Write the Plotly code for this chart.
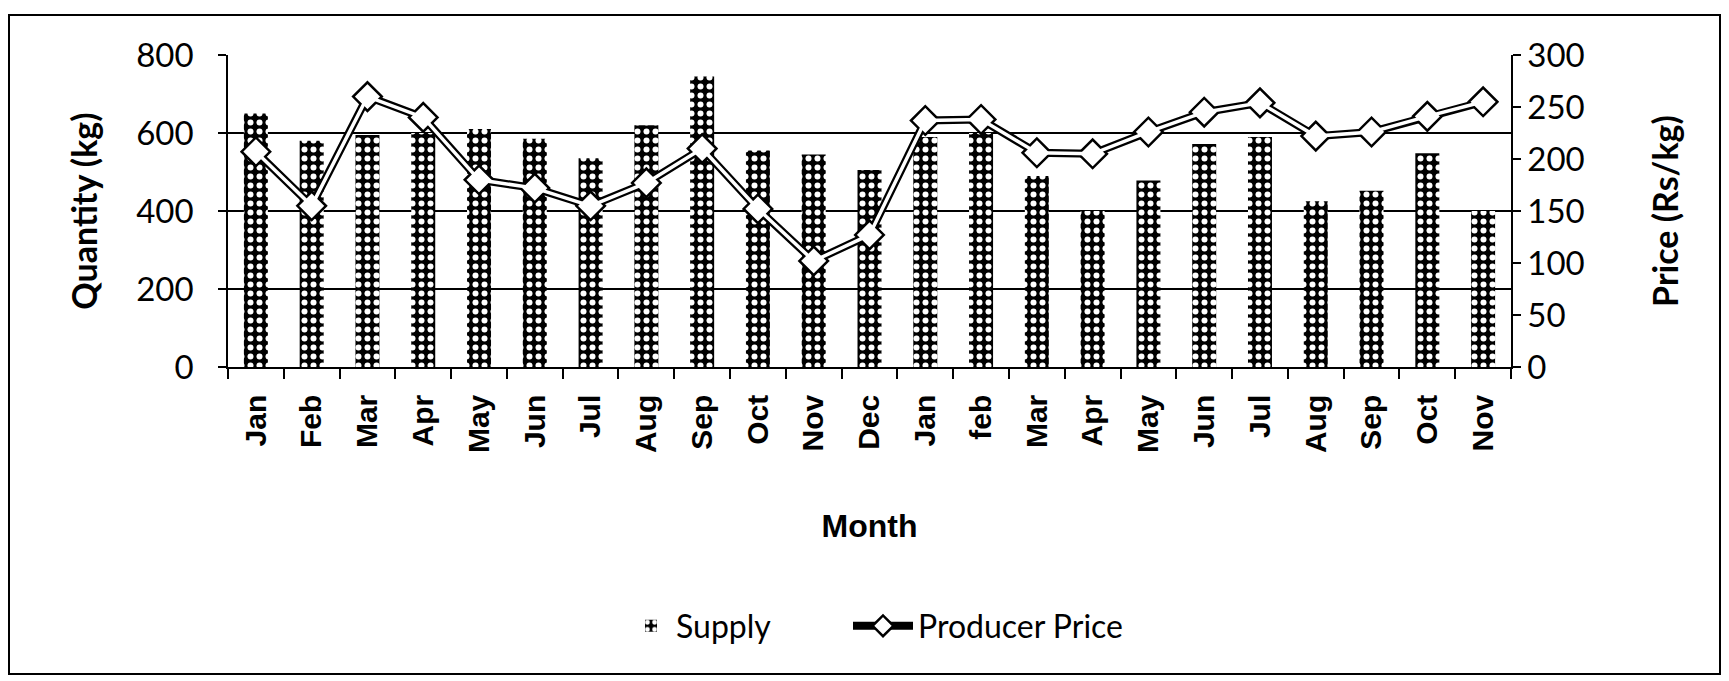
import plotly.graph_objects as go

# Monthly series (two consecutive seasons)
months = ["Jan", "Feb", "Mar", "Apr", "May", "Jun", "Jul", "Aug", "Sep", "Oct", "Nov", "Dec",
          "Jan", "feb", "Mar", "Apr", "May", "Jun", "Jul", "Aug", "Sep", "Oct", "Nov"]
supply = [650, 580, 595, 600, 610, 585, 535, 620, 745, 555, 545, 505,
          590, 600, 490, 400, 478, 572, 590, 425, 452, 548, 400]
price = [207, 155, 260, 240, 180, 172, 155, 177, 210, 152, 102, 127,
         237, 238, 206, 205, 226, 245, 254, 222, 226, 241, 255]

qty_ticks = [0, 200, 400, 600, 800]
price_ticks = [0, 50, 100, 150, 200, 250, 300]

x = list(range(len(months)))
boundaries = [i - 0.5 for i in range(len(months) + 1)]

W, H = 1729, 681
L, R, T, B = 228, 218, 55, 314
pw, ph = W - L - R, H - T - B

fig = go.Figure()

fig.add_bar(
    x=x, y=supply, name="Supply", yaxis="y", legend="legend",
    marker=dict(
        color="black",
        line=dict(width=0),
        pattern=dict(shape=".", bgcolor="black", fgcolor="white",
                     size=9, solidity=0.35, fillmode="replace"),
    ),
)

# Double-stroke price line: black outer stroke + white inner stroke
fig.add_scatter(
    x=x, y=price, yaxis="y2", mode="lines+markers", name="Producer Price",
    legend="legend2",
    line=dict(color="black", width=8),
    marker=dict(symbol="diamond", size=22, color="white",
                line=dict(color="black", width=2.5)),
)
fig.add_scatter(
    x=x, y=price, yaxis="y2", mode="lines+markers", showlegend=False,
    line=dict(color="white", width=3.5),
    marker=dict(symbol="diamond", size=14, color="white", line=dict(width=0)),
    hoverinfo="skip",
)

tick_font = dict(family="Lato", size=33, color="black")
title_font = dict(family="Lato", size=34, color="black", weight="bold")
legend_font = dict(family="Lato", size=32, color="black")
legend_y = (H - B - 626) / ph

fig.update_layout(
    width=W, height=H,
    margin=dict(l=L, r=R, t=T, b=B),
    paper_bgcolor="white", plot_bgcolor="white",
    bargap=0.57,
    showlegend=True,
    legend=dict(x=(626 - L) / pw, xanchor="left", y=legend_y, yanchor="middle",
                font=legend_font, itemwidth=40),
    legend2=dict(x=(848 - L) / pw, xanchor="left", y=legend_y, yanchor="middle",
                 font=legend_font, itemwidth=60),
    xaxis=dict(
        range=[-0.5, len(months) - 0.5],
        tickmode="array", tickvals=x, ticktext=months, ticks="",
        tickangle=-90, ticklabelstandoff=14,
        tickfont=dict(family="Liberation Sans", size=30, color="black", weight="bold"),
        showgrid=False, zeroline=False,
        showline=True, linecolor="black", linewidth=1.5,
        minor=dict(tickmode="array", tickvals=boundaries, ticks="outside",
                   ticklen=10, tickwidth=1.5, tickcolor="black", showgrid=False),
        title=dict(text="Month", standoff=62,
                   font=dict(family="Liberation Sans", size=32, color="black", weight="bold")),
    ),
    yaxis=dict(
        range=[0, 800], tickmode="array", tickvals=qty_ticks,
        tickfont=tick_font, ticks="outside", ticklen=8, tickwidth=1.5, tickcolor="black",
        ticklabelstandoff=18,
        showgrid=True, gridcolor="black", gridwidth=1.5,
        zeroline=False, showline=True, linecolor="black", linewidth=1.5,
        title=dict(text="Quantity (kg)", font=title_font, standoff=28),
    ),
    yaxis2=dict(
        range=[0, 300], tickmode="array", tickvals=price_ticks,
        overlaying="y", side="right",
        tickfont=tick_font, ticks="outside", ticklen=8, tickwidth=1.5, tickcolor="black",
        showgrid=False, zeroline=False, showline=True, linecolor="black", linewidth=1.5,
        title=dict(text="Price (Rs/kg)", font=title_font, standoff=70),
    ),
    shapes=[
        dict(type="rect", xref="paper", yref="paper",
             x0=(9 - L) / pw, x1=(1720 - L) / pw,
             y0=(H - B - 674) / ph, y1=(H - B - 15) / ph,
             line=dict(color="black", width=2), fillcolor="rgba(0,0,0,0)", layer="below"),
    ],
)

fig.write_html("out.html")
